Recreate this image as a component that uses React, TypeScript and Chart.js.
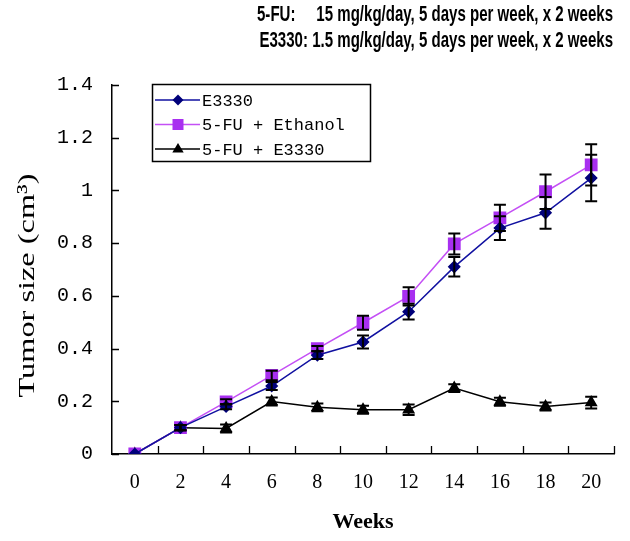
import React, { useEffect, useRef } from 'react';
import { Chart, registerables } from 'chart.js';

Chart.register(...registerables);

const weeks = ['0', '2', '4', '6', '8', '10', '12', '14', '16', '18', '20'];
const titleLines = [
  '5-FU:     15 mg/kg/day, 5 days per week, x 2 weeks',
  'E3330: 1.5 mg/kg/day, 5 days per week, x 2 weeks',
];
const seriesNames = ['E3330', '5-FU + Ethanol', '5-FU + E3330'];
const e3330 = [0, 0.1, 0.18, 0.258, 0.375, 0.425, 0.54, 0.71, 0.857, 0.915, 1.047];
const e3330Err = [0, 0.01, 0.01, 0.015, 0.015, 0.025, 0.03, 0.037, 0.045, 0.06, 0.088];
const fuEthanol = [0, 0.1, 0.198, 0.298, 0.4, 0.498, 0.598, 0.797, 0.896, 0.995, 1.097];
const fuEthanolErr = [0, 0.01, 0.01, 0.018, 0.01, 0.027, 0.035, 0.04, 0.05, 0.065, 0.078];
const fuE3330 = [0, 0.1, 0.097, 0.199, 0.177, 0.168, 0.168, 0.25, 0.198, 0.18, 0.195];
const fuE3330Err = [0, 0.01, 0.015, 0.015, 0.015, 0.015, 0.02, 0.015, 0.015, 0.015, 0.022];
const yTitle = 'Tumor size (cm³)';
const xTitle = 'Weeks';

const BLUE_LINE = '#1010A0';
const BLUE_MARK = '#00007A';
const PURPLE_LINE = '#C450F5';
const PURPLE_MARK = '#A82FF0';

function drawMarker(ctx: CanvasRenderingContext2D, style: string, x: number, y: number, color: string) {
  ctx.save();
  ctx.fillStyle = color;
  ctx.beginPath();
  if (style === 'rectRot') {
    const r = 5.5;
    ctx.moveTo(x, y - r);
    ctx.lineTo(x + r, y);
    ctx.lineTo(x, y + r);
    ctx.lineTo(x - r, y);
  } else if (style === 'rect') {
    const s = 5.5;
    ctx.rect(x - s, y - s, 2 * s, 2 * s);
  } else {
    const r = 6;
    ctx.moveTo(x, y - r);
    ctx.lineTo(x + r * 0.95, y + r * 0.6);
    ctx.lineTo(x - r * 0.95, y + r * 0.6);
  }
  ctx.closePath();
  ctx.fill();
  ctx.restore();
}

const errorBarPlugin = {
  id: 'errorBars',
  afterDatasetsDraw(chart: any) {
    const ctx = chart.ctx as CanvasRenderingContext2D;
    const yScale = chart.scales.y;
    ctx.save();
    ctx.strokeStyle = '#000';
    ctx.lineWidth = 2;
    chart.data.datasets.forEach((ds: any, di: number) => {
      const meta = chart.getDatasetMeta(di);
      const errs: number[] = ds.errors || [];
      meta.data.forEach((pt: any, i: number) => {
        const e = errs[i];
        if (!e) return;
        const v = ds.data[i];
        const yTop = yScale.getPixelForValue(v + e);
        const yBot = yScale.getPixelForValue(v - e);
        const x = pt.x;
        const cap = 6;
        ctx.beginPath();
        ctx.moveTo(x, yTop);
        ctx.lineTo(x, yBot);
        ctx.moveTo(x - cap, yTop);
        ctx.lineTo(x + cap, yTop);
        ctx.moveTo(x - cap, yBot);
        ctx.lineTo(x + cap, yBot);
        ctx.stroke();
      });
    });
    ctx.restore();
  },
};

const insideTicksPlugin = {
  id: 'insideTicks',
  afterDraw(chart: any) {
    const ctx = chart.ctx as CanvasRenderingContext2D;
    const { left, right, bottom } = chart.chartArea;
    const yScale = chart.scales.y;
    const xScale = chart.scales.x;
    ctx.save();
    ctx.strokeStyle = '#000';
    ctx.lineWidth = 1.3;
    ctx.beginPath();
    yScale.ticks.forEach((t: any) => {
      const py = Math.round(yScale.getPixelForValue(t.value)) + 0.5;
      ctx.moveTo(left, py);
      ctx.lineTo(left + 7, py);
    });
    const n = weeks.length;
    for (let i = 1; i <= n; i++) {
      let px: number;
      if (i === n) px = right;
      else px = (xScale.getPixelForValue(i - 1) + xScale.getPixelForValue(i)) / 2;
      px = Math.round(px) + 0.5;
      ctx.moveTo(px, bottom);
      ctx.lineTo(px, bottom - 8);
    }
    ctx.stroke();
    ctx.restore();
  },
};

const textPlugin = {
  id: 'condensedText',
  afterDraw(chart: any) {
    const ctx = chart.ctx as CanvasRenderingContext2D;
    const { top, bottom, right } = chart.chartArea;
    ctx.save();
    ctx.fillStyle = '#000';
    // title: bold, condensed, right aligned
    ctx.font = 'bold 22px "Liberation Sans", Arial, sans-serif';
    ctx.textBaseline = 'middle';
    ctx.textAlign = 'left';
    const w0 = ctx.measureText(titleLines[0]).width;
    const sx = 356 / w0;
    titleLines.forEach((line, i) => {
      const w = ctx.measureText(line).width * sx;
      ctx.save();
      ctx.translate(right - 1 - w, 15 + i * 26);
      ctx.scale(sx, 1);
      ctx.fillText(line, 0, 0);
      ctx.restore();
    });
    // y title: rotated, stretched along its length
    ctx.font = '24px "Liberation Serif", serif';
    ctx.textAlign = 'center';
    const wy = ctx.measureText(yTitle).width;
    const sy = 224 / wy;
    ctx.save();
    ctx.translate(28, (top + bottom) / 2 + 16);
    ctx.rotate(-Math.PI / 2);
    ctx.scale(sy, 1);
    ctx.fillText(yTitle, 0, 0);
    ctx.restore();
    ctx.restore();
  },
};

const boxLegendPlugin = {
  id: 'boxLegend',
  afterDraw(chart: any) {
    const ctx = chart.ctx as CanvasRenderingContext2D;
    const { left, top } = chart.chartArea;
    const bx = left + 40;
    const by = top - 1;
    const bw = 218;
    const bh = 77;
    ctx.save();
    ctx.fillStyle = '#fff';
    ctx.fillRect(bx, by, bw, bh);
    ctx.strokeStyle = '#000';
    ctx.lineWidth = 1.5;
    ctx.strokeRect(bx + 0.5, by + 0.5, bw, bh);
    ctx.font = '17px "Liberation Mono", monospace';
    ctx.textBaseline = 'middle';
    ctx.textAlign = 'left';
    chart.data.datasets.forEach((ds: any, i: number) => {
      const ry = by + 16 + i * 24.5;
      ctx.strokeStyle = ds.borderColor;
      ctx.lineWidth = 1.5;
      ctx.beginPath();
      ctx.moveTo(bx + 3, ry);
      ctx.lineTo(bx + 48, ry);
      ctx.stroke();
      drawMarker(ctx, ds.pointStyle, bx + 26, ry, ds.pointBackgroundColor);
      ctx.fillStyle = '#000';
      ctx.fillText(ds.label, bx + 50, ry + 1);
    });
    ctx.restore();
  },
};

export default function App() {
  const ref = useRef<HTMLCanvasElement>(null);
  useEffect(() => {
    if (!ref.current) return;
    const chart = new Chart(ref.current, {
      type: 'line',
      data: {
        labels: weeks,
        datasets: [
          {
            label: seriesNames[0],
            data: e3330,
            errors: e3330Err,
            borderColor: BLUE_LINE,
            backgroundColor: BLUE_MARK,
            pointBackgroundColor: BLUE_MARK,
            pointBorderColor: BLUE_MARK,
            pointStyle: 'rectRot',
            pointRadius: 5.5,
            borderWidth: 1.5,
          } as any,
          {
            label: seriesNames[1],
            data: fuEthanol,
            errors: fuEthanolErr,
            borderColor: PURPLE_LINE,
            backgroundColor: PURPLE_MARK,
            pointBackgroundColor: PURPLE_MARK,
            pointBorderColor: PURPLE_MARK,
            pointStyle: 'rect',
            pointRadius: 8,
            borderWidth: 1.5,
          } as any,
          {
            label: seriesNames[2],
            data: fuE3330,
            errors: fuE3330Err,
            borderColor: '#000',
            backgroundColor: '#000',
            pointBackgroundColor: '#000',
            pointBorderColor: '#000',
            pointStyle: 'triangle',
            pointRadius: 6,
            borderWidth: 1.5,
          } as any,
        ],
      },
      options: {
        responsive: false,
        animation: false,
        layout: { padding: { left: 0, right: 16, top: 85, bottom: 0 } },
        plugins: {
          legend: { display: false },
          tooltip: { enabled: false },
          title: { display: false },
        },
        scales: {
          x: {
            type: 'category',
            offset: true,
            grid: { display: false, drawTicks: false },
            border: { display: true, color: '#000', width: 1.5 },
            ticks: {
              color: '#000',
              padding: 17,
              maxRotation: 0,
              font: { family: '"Liberation Serif", serif', size: 20 },
            },
            title: {
              display: true,
              text: xTitle,
              color: '#000',
              font: { family: '"Liberation Serif", serif', size: 22, weight: 'bold', lineHeight: 1.2 },
              padding: { top: 0, bottom: 5 },
            },
            afterFit(scale: any) {
              scale.height = 87;
            },
          },
          y: {
            min: 0,
            max: 1.4,
            grid: { display: false, drawTicks: false },
            border: { display: true, color: '#000', width: 1.5 },
            ticks: {
              stepSize: 0.2,
              color: '#000',
              padding: 19,
              font: { family: '"Liberation Mono", monospace', size: 20 },
              callback: (v: any) => String(Math.round(Number(v) * 10) / 10),
            },
            afterFit(scale: any) {
              scale.width = 112;
            },
          },
        },
      } as any,
      plugins: [errorBarPlugin, insideTicksPlugin, textPlugin, boxLegendPlugin],
    });
    return () => chart.destroy();
  }, []);
  return (
    <div style={{ position: 'fixed', left: 0, top: 0, width: 630, height: 541, background: '#fff' }}>
      <canvas ref={ref} width={630} height={541} style={{ display: 'block' }} />
    </div>
  );
}
